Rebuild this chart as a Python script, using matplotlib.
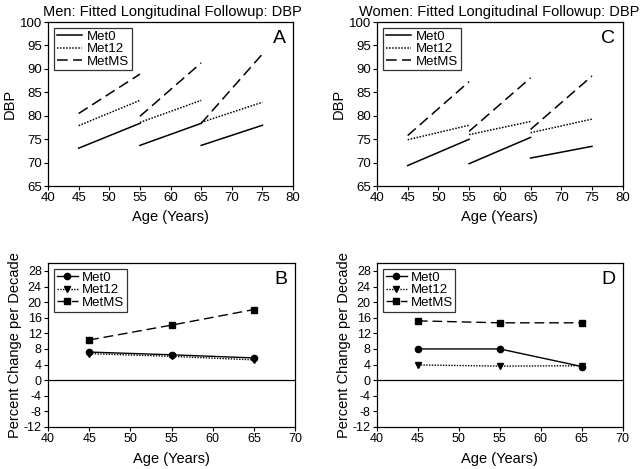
import matplotlib
matplotlib.use("Agg")
import matplotlib.pyplot as plt

plt.rcParams['font.family'] = ['Liberation Sans', 'DejaVu Sans']
plt.rcParams['axes.unicode_minus'] = False

# Fitted longitudinal segments (start age, end age)
seg_ages = [(45, 55), (55, 65), (65, 75)]
series_names = ["Met0", "Met12", "MetMS"]

men_dbp = {
    "Met0":  [(73.1, 78.4), (73.7, 78.4), (73.7, 78.0)],
    "Met12": [(77.9, 83.3), (78.6, 83.3), (78.6, 82.9)],
    "MetMS": [(80.5, 88.9), (79.9, 91.3), (78.4, 93.2)],
}
women_dbp = {
    "Met0":  [(69.4, 75.0), (69.8, 75.4), (71.0, 73.5)],
    "Met12": [(74.9, 78.0), (76.0, 78.8), (76.4, 79.3)],
    "MetMS": [(75.8, 87.3), (76.7, 88.1), (77.1, 88.5)],
}

pct_ages = [45, 55, 65]
men_pct = {
    "Met0":  [7.2, 6.5, 5.7],
    "Met12": [6.8, 6.1, 5.2],
    "MetMS": [10.3, 14.1, 18.1],
}
women_pct = {
    "Met0":  [8.0, 8.0, 3.5],
    "Met12": [3.9, 3.6, 3.7],
    "MetMS": [15.2, 14.7, 14.7],
}

styles = {
    "Met0":  dict(linestyle="-", marker="o"),
    "Met12": dict(linestyle=(0, (1, 1)), marker="v"),
    "MetMS": dict(linestyle=(0, (7, 3.5)), marker="s"),
}

fig = plt.figure(figsize=(6.4, 4.69), dpi=100)
axA = fig.add_axes([0.075, 0.603, 0.383, 0.350])
axC = fig.add_axes([0.589, 0.603, 0.384, 0.350])
axB = fig.add_axes([0.075, 0.0896, 0.386, 0.3494])
axD = fig.add_axes([0.589, 0.0896, 0.384, 0.3494])

label_fs = 10.5

def style_axes(ax, fs):
    for s in ax.spines.values():
        s.set_linewidth(0.9)
    ax.tick_params(direction="out", length=3, width=0.8, labelsize=fs, pad=1.5)

def draw_dbp(ax, data, letter, title, xtitle):
    for name in series_names:
        ls = styles[name]["linestyle"]
        for i, (a0, a1) in enumerate(seg_ages):
            v0, v1 = data[name][i]
            ax.plot([a0, a1], [v0, v1], color="black", linestyle=ls, lw=1.1,
                    label=name if i == 0 else None)
    ax.set_xlim(40, 80)
    ax.set_ylim(65, 100)
    ax.set_xticks(range(40, 81, 5))
    ax.set_yticks(range(65, 101, 5))
    ax.set_xlabel("Age (Years)", fontsize=label_fs, labelpad=4)
    ax.set_ylabel("DBP", fontsize=label_fs, labelpad=2)
    ax.text(0.97, 0.95, letter, transform=ax.transAxes, ha="right", va="top", fontsize=14)
    leg = ax.legend(loc="upper left", fontsize=9.5, frameon=True, fancybox=False,
                    edgecolor="black", handlelength=1.9, handletextpad=0.4,
                    borderpad=0.2, labelspacing=0.02, borderaxespad=0.45)
    leg.get_frame().set_linewidth(0.9)
    fig.text(xtitle, 0.99, title, ha="center", va="top", fontsize=10.5)
    style_axes(ax, 9.5)

def draw_pct(ax, data, letter):
    ax.axhline(0, color="black", lw=0.9)
    for name in series_names:
        st = styles[name]
        ax.plot(pct_ages, data[name], color="black", linestyle=st["linestyle"],
                marker=st["marker"], markersize=4.5, lw=1.0, label=name)
    ax.set_xlim(40, 70)
    ax.set_ylim(-12, 30)
    ax.set_xticks(range(40, 71, 5))
    ax.set_yticks(range(-12, 29, 4))
    ax.set_xlabel("Age (Years)", fontsize=label_fs, labelpad=5)
    ax.set_ylabel("Percent Change per Decade", fontsize=label_fs, labelpad=1)
    ax.text(0.97, 0.95, letter, transform=ax.transAxes, ha="right", va="top", fontsize=14)
    leg = ax.legend(loc="upper left", fontsize=9.5, frameon=True, fancybox=False,
                    edgecolor="black", handlelength=1.6, handletextpad=0.3,
                    borderpad=0.2, labelspacing=0.02, borderaxespad=0.45)
    leg.get_frame().set_linewidth(0.9)
    style_axes(ax, 9)

draw_dbp(axA, men_dbp, "A", "Men: Fitted Longitudinal Followup: DBP", 0.27)
draw_dbp(axC, women_dbp, "C", "Women: Fitted Longitudinal Followup: DBP", 0.78)
draw_pct(axB, men_pct, "B")
draw_pct(axD, women_pct, "D")

fig.savefig("out.png", dpi=100)
